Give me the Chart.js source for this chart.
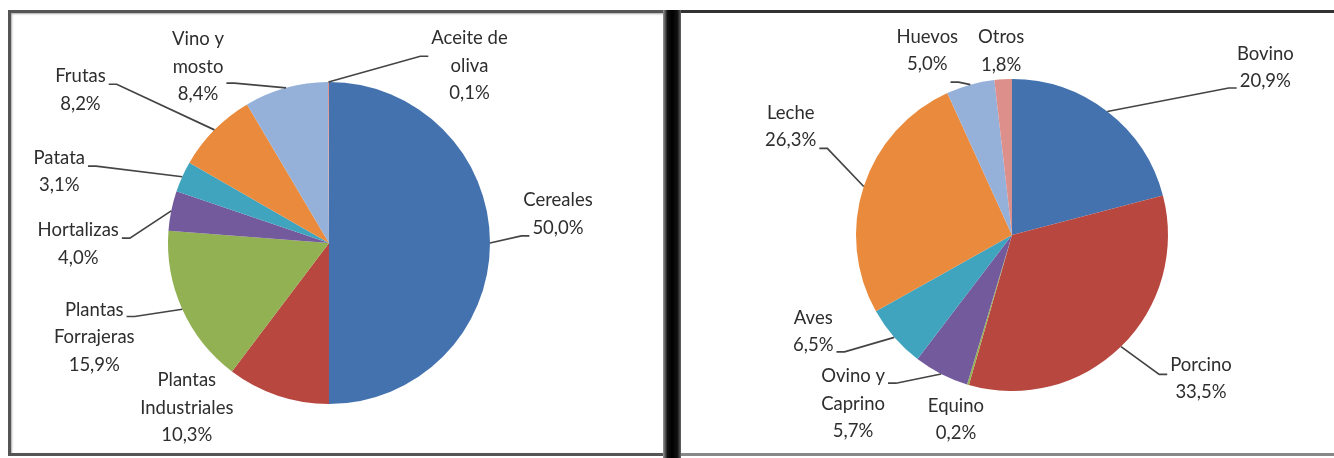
<!DOCTYPE html>
<html>
<head>
<meta charset="utf-8">
<script src="https://cdn.jsdelivr.net/npm/chart.js@4"></script>
<style>
  html, body { margin: 0; padding: 0; background: #fff; width: 1334px; height: 458px; overflow: hidden; }
  .frame { position: absolute; box-sizing: border-box; }
  #box1 { left: 8px; top: 10px; width: 660px; height: 446px; border: 3px solid #555; border-right: none; box-shadow: inset 1px 1px 2px #aaa; }
  #sep { left: 663px; top: 10px; width: 18px; height: 448px; background: linear-gradient(to right, #999, #111 25%, #000 50%, #111 80%, #666); }
  #box2 { left: 681px; top: 10px; width: 653px; height: 446px; border-top: 3px solid #333; border-bottom: 3px solid #888; }
  canvas { position: absolute; top: 0; }
</style>
</head>
<body>
<div class="frame" id="box1"></div>
<div class="frame" id="sep"></div>
<div class="frame" id="box2"></div>
<canvas id="agri" width="667" height="458" style="left:0"></canvas>
<canvas id="gana" width="667" height="458" style="left:667px"></canvas>
<script>
// Producción vegetal (%)
const vegLabels = [['Cereales'], ['Plantas', 'Industriales'], ['Plantas', 'Forrajeras'], ['Hortalizas'], ['Patata'], ['Frutas'], ['Vino y', 'mosto'], ['Aceite de', 'oliva']]
const vegValues = [50.0, 10.3, 15.9, 4.0, 3.1, 8.2, 8.4, 0.1]

// Producción animal (%)
const aniLabels = [['Bovino'], ['Porcino'], ['Equino'], ['Ovino y', 'Caprino'], ['Aves'], ['Leche'], ['Huevos'], ['Otros']]
const aniValues = [20.9, 33.5, 0.2, 5.7, 6.5, 26.3, 5.0, 1.8]

const colors = ['#4472ae', '#b8473f', '#92b152', '#735a9c', '#41a4bf', '#ea8a3c', '#95b1da', '#dd8f8b']

// label placement: offset of label centre from the slice's outer mid point,
// leader anchored at a text line (index) on side 'l' / 'r', or no leader
const vegPlace = [
  { dx: 68, dy: -29, line: 1.15, side: 'l' },
  { dx: -91, dy: 12, side: null },
  { dx: -88, dy: 28, line: 0.1, side: 'r' },
  { dx: -93, dy: 33, line: 0.15, side: 'r' },
  { dx: -123, dy: -5, line: 0.15, side: 'r' },
  { dx: -134, dy: -40, line: 0.15, side: 'r' },
  { dx: -88, dy: -21, line: 1.45, side: 'r' },
  { dx: 141, dy: -16, line: 0.5, side: 'l' }
]
const aniPlace = [
  { dx: 158, dy: -44, line: 1.1, side: 'l' },
  { dx: 80, dy: 32, line: 0.2, side: 'l' },
  { dx: -12, dy: 35, side: null },
  { dx: -88, dy: 30, line: 0.1, side: 'r' },
  { dx: -81, dy: -6, line: 1.1, side: 'r' },
  { dx: -73, dy: -60, line: 1.15, side: 'r' },
  { dx: -43, dy: -34, line: 1.5, side: 'r' },
  { dx: -2, dy: -28, side: null }
]

const fmt = v => v.toFixed(1).replace('.', ',') + '%'

const outLabels = {
  id: 'outLabels',
  afterDraw (chart, args, opts) {
    const ctx = chart.ctx
    const ds = chart.data.datasets[0]
    const lineH = 27.5
    ctx.save()
    ctx.font = '18.5px Lato'
    ctx.fillStyle = '#2e2e2e'
    ctx.strokeStyle = '#444'
    ctx.lineWidth = 1.7
    ctx.textAlign = 'center'
    ctx.textBaseline = 'middle'
    chart.getDatasetMeta(0).data.forEach((arc, i) => {
      const p = arc.getProps(['x', 'y', 'startAngle', 'endAngle', 'outerRadius'], true)
      const mid = (p.startAngle + p.endAngle) / 2
      const px = p.x + Math.cos(mid) * p.outerRadius
      const py = p.y + Math.sin(mid) * p.outerRadius
      const pl = opts.place[i]
      const lines = chart.data.labels[i].concat([fmt(ds.data[i])])
      const cx = px + pl.dx
      const cy = py + pl.dy
      const top = cy - (lines.length - 1) * lineH / 2
      lines.forEach((t, k) => ctx.fillText(t, cx, top + k * lineH))
      if (pl.side) {
        const w = ctx.measureText(lines[Math.floor(pl.line)]).width
        const ay = top + pl.line * lineH + 4
        const ax = pl.side === 'l' ? cx - w / 2 - 3 : cx + w / 2 + 3
        const sx = pl.side === 'l' ? ax - 8 : ax + 8
        ctx.beginPath()
        ctx.moveTo(ax, ay)
        ctx.lineTo(sx, ay)
        ctx.lineTo(px, py)
        ctx.stroke()
      }
    })
    ctx.restore()
  }
}

function makePie (id, labels, values, place, padding) {
  return new Chart(document.getElementById(id), {
    type: 'pie',
    data: {
      labels: labels,
      datasets: [{
        data: values,
        backgroundColor: colors,
        borderWidth: 0
      }]
    },
    options: {
      responsive: false,
      animation: false,
      layout: { padding: padding },
      plugins: {
        legend: { display: false },
        tooltip: { enabled: false },
        outLabels: { place: place }
      }
    },
    plugins: [outLabels]
  })
}

makePie('agri', vegLabels, vegValues, vegPlace, { left: 168, right: 177, top: 82, bottom: 54 })
makePie('gana', aniLabels, aniValues, aniPlace, { left: 189, right: 166, top: 79, bottom: 67 })
</script>
</body>
</html>
